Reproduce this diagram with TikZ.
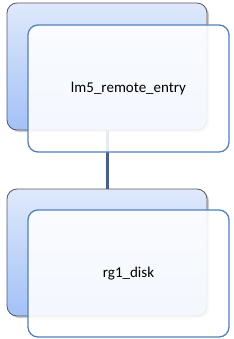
\documentclass[tikz,border=0pt]{standalone}
\usepackage{fontspec}
\setmainfont{Carlito}
\usetikzlibrary{shadows}
\definecolor{boxline}{HTML}{4F81BD}
\definecolor{linkline}{HTML}{3F6193}
\definecolor{backtop}{HTML}{DFE9FB}
\definecolor{backbot}{HTML}{A3C1F7}
\begin{document}
\begin{tikzpicture}[x=1pt, y=-1pt, font=\fontsize{15}{17}\selectfont, line join=round]
	\tikzset{
		backbox/.style={draw=gray!70!black, line width=0.8pt, rounded corners=10pt, minimum width=200pt, minimum height=127pt,
			top color=backtop, bottom color=backbot, drop shadow={shadow xshift=2pt, shadow yshift=-2pt, opacity=0.4}},
		frontbox/.style={draw=boxline, line width=1.3pt, rounded corners=10pt, minimum width=201pt, minimum height=127pt,
			fill=white, fill opacity=0.88, text opacity=1},
		link/.style={draw=linkline, line width=3pt}
	}
	\useasboundingbox (0,0) rectangle (233,339);
	\node[backbox] (lmback) at (107,66.5) {};
	\node[backbox] (rgback) at (107,252.5) {};
	\draw[link] (lmback.south) -- (rgback.north);
	\node[frontbox] (lmfront) at (128.5,88.5) {lm5\_remote\_entry};
	\node[frontbox] (rgfront) at (128.5,273.5) {rg1\_disk};
\end{tikzpicture}
\end{document}
